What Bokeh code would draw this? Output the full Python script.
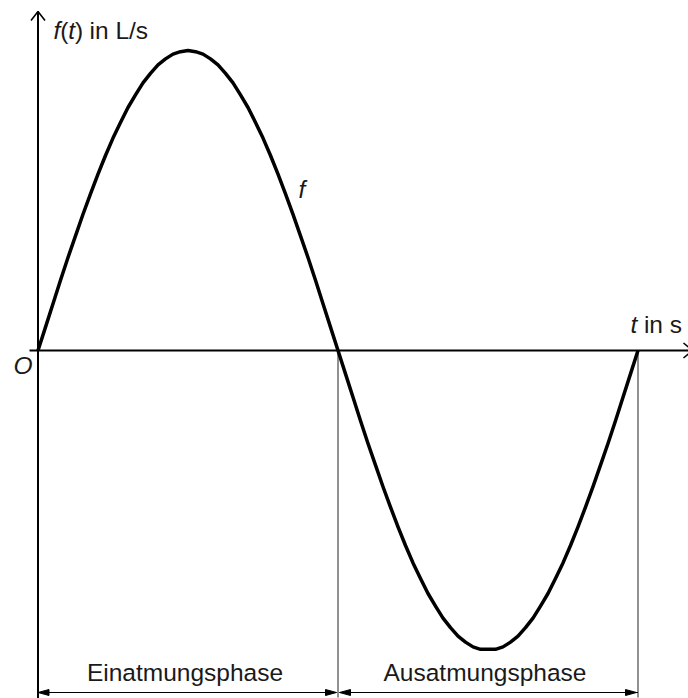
from bokeh.plotting import figure
from bokeh.models import Range1d, Label
from bokeh.embed import file_html
from bokeh.resources import INLINE

# ---- data (t in s, f(t) in L/s; one breathing cycle) ----
t_vals = [0.0, 0.0625, 0.125, 0.1875, 0.25, 0.3125, 0.375, 0.4375, 0.5, 0.5625,
          0.625, 0.6875, 0.75, 0.8125, 0.875, 0.9375, 1.0, 1.0625, 1.125, 1.1875,
          1.25, 1.3125, 1.375, 1.4375, 1.5, 1.5625, 1.625, 1.6875, 1.75, 1.8125,
          1.875, 1.9375, 2.0, 2.0625, 2.125, 2.1875, 2.25, 2.3125, 2.375, 2.4375,
          2.5, 2.5625, 2.625, 2.6875, 2.75, 2.8125, 2.875, 2.9375, 3.0, 3.0625,
          3.125, 3.1875, 3.25, 3.3125, 3.375, 3.4375, 3.5, 3.5625, 3.625, 3.6875,
          3.75, 3.8125, 3.875, 3.9375, 4.0, 4.0625, 4.125, 4.1875, 4.25, 4.3125,
          4.375, 4.4375, 4.5, 4.5625, 4.625, 4.6875, 4.75, 4.8125, 4.875, 4.9375,
          5.0]
f_vals = [0.0, 0.039, 0.078, 0.117, 0.155, 0.191, 0.227, 0.261, 0.294, 0.325,
          0.354, 0.380, 0.405, 0.426, 0.446, 0.462, 0.476, 0.486, 0.494, 0.498,
          0.5, 0.498, 0.494, 0.486, 0.476, 0.462, 0.446, 0.426, 0.405, 0.380,
          0.354, 0.325, 0.294, 0.261, 0.227, 0.191, 0.155, 0.117, 0.078, 0.039,
          0.0, -0.039, -0.078, -0.117, -0.155, -0.191, -0.227, -0.261, -0.294, -0.325,
          -0.354, -0.380, -0.405, -0.426, -0.446, -0.462, -0.476, -0.486, -0.494, -0.498,
          -0.498, -0.498, -0.494, -0.486, -0.476, -0.462, -0.446, -0.426, -0.405, -0.380,
          -0.354, -0.325, -0.294, -0.261, -0.227, -0.191, -0.155, -0.117, -0.078, -0.039,
          0.0]
phase_bounds = [0.0, 2.5, 5.0]
phase_labels = ["Einatmungsphase", "Ausatmungsphase"]

# ---- layout (pixels inside the figure) ----
W, H = 688, 698
PX_T = 120.0          # pixels per second
PX_F = 600.0          # pixels per L/s
ORIG_X = 37.5         # px of t = 0
ORIG_Y = 350.0        # px of f = 0 (from top)
TSHIFT = -8           # text baseline correction


def tx(px):
    return (px - ORIG_X) / PX_T


def fy(py):
    return (ORIG_Y - py) / PX_F


FONT = "Liberation Sans"
FS = "24.5px"
TXT = "#1a1a1a"

p = figure(width=W, height=H, x_range=Range1d(tx(0), tx(W)),
           y_range=Range1d(fy(H), fy(0)), output_backend="svg",
           toolbar_location=None, min_border=0, outline_line_color=None,
           x_axis_type=None, y_axis_type=None)
p.grid.visible = False
p.background_fill_color = "white"

t0, tm, t1 = phase_bounds

# axes
p.line([t0, t0], [fy(H), fy(11)], line_color="black", line_width=2)
p.line([tx(29), tx(692)], [0, 0], line_color="black", line_width=2)
# open arrow heads
p.multi_line([[t0 - 7 / PX_T, t0, t0 + 7 / PX_T], [tx(683), tx(692), tx(683)]],
             [[fy(20), fy(11), fy(20)], [7.5 / PX_F, 0, -7.5 / PX_F]],
             line_color="black", line_width=1.6)

# guide verticals
p.multi_line([[tm, tm], [t1, t1]], [[0, fy(697)], [0, fy(697)]],
             line_color="#222222", line_width=1)

# the curve
p.line(t_vals, f_vals, line_color="black", line_width=3.5, line_join="round")

# double arrows under the phases
ya = fy(692)
hl, hw, gap = 11 / PX_T, 3 / PX_F, 1.5 / PX_T
p.multi_line([[t0, tm - gap], [tm + gap, t1]], [[ya, ya], [ya, ya]],
             line_color="black", line_width=1)
heads_x, heads_y = [], []
for a, b in zip(phase_bounds[:-1], phase_bounds[1:]):
    sa = a + (gap if a > t0 else 0)
    sb = b - gap
    heads_x.append([sa, sa + hl, sa + hl])
    heads_y.append([ya, ya + hw, ya - hw])
    heads_x.append([sb, sb - hl, sb - hl])
    heads_y.append([ya, ya + hw, ya - hw])
p.patches(heads_x, heads_y, fill_color="black", line_color="black", line_width=1)

# phase labels
for a, b, lab in zip(phase_bounds[:-1], phase_bounds[1:], phase_labels):
    p.add_layout(Label(x=(a + b) / 2, y=fy(680 + TSHIFT), x_offset=-3, text=lab,
                       text_font=FONT, text_font_size=FS, text_color=TXT,
                       text_align="center", text_baseline="alphabetic"))


def piece(xpx, ypx, s, italic=False):
    p.add_layout(Label(x=tx(xpx), y=fy(ypx + TSHIFT), text=s, text_font=FONT,
                       text_font_size=FS, text_color=TXT,
                       text_font_style="italic" if italic else "normal",
                       text_align="left", text_baseline="alphabetic"))


# y-axis title  f(t) in L/s
piece(53.0, 38, "f", True)
piece(59.7, 38, "(")
piece(67.7, 38, "t", True)
piece(74.4, 38, ")")
piece(89.0, 38, "in L/s")
# x-axis title  t in s
piece(630.0, 332, "t", True)
piece(643.4, 332, "in s")
# origin
piece(13.0, 373, "O", True)
# curve label
piece(298.0, 197, "f", True)

open("out.html", "w").write(file_html(p, INLINE))
